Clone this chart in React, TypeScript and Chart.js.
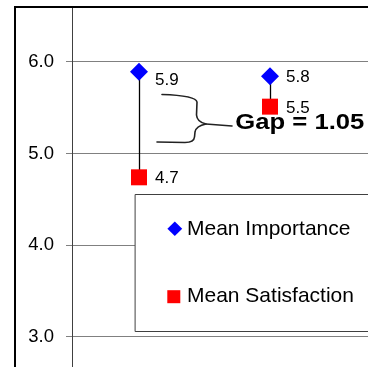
import React, { useEffect, useRef } from "react";
import { Chart, registerables } from "chart.js";

Chart.register(...registerables);

// ---- data ----
const categories = ["Attribute 1", "Attribute 2"];
const meanImportance = [5.89, 5.84];
const meanSatisfaction = [4.74, 5.51];
const yTickValues = [3, 4, 5, 6];
const seriesNames = ["Mean Importance", "Mean Satisfaction"];
const gapText = "Gap = 1.05";

const FONT = "'Liberation Sans', Arial, Helvetica, sans-serif";

const decorPlugin = {
  id: "decor",
  beforeDatasetsDraw(chart: any) {
    const { ctx } = chart;
    const xs = chart.scales.x;
    const ys = chart.scales.y;
    ctx.save();
    ctx.strokeStyle = "#000";
    ctx.lineWidth = 1.3;
    categories.forEach((_, i) => {
      const px = Math.round(xs.getPixelForValue(i)) + 0.5;
      ctx.beginPath();
      ctx.moveTo(px, ys.getPixelForValue(meanImportance[i]));
      ctx.lineTo(px, ys.getPixelForValue(meanSatisfaction[i]));
      ctx.stroke();
    });
    ctx.restore();
  },
  afterDatasetsDraw(chart: any) {
    const { ctx } = chart;
    ctx.save();
    // value labels
    ctx.fillStyle = "#000";
    ctx.font = `17px ${FONT}`;
    ctx.textAlign = "left";
    ctx.textBaseline = "alphabetic";
    [meanImportance, meanSatisfaction].forEach((series, d) => {
      const meta = chart.getDatasetMeta(d);
      series.forEach((v, i) => {
        const el = meta.data[i];
        const nudge = d === 0 && i === 0 ? 7 : 0;
        ctx.fillText(v.toFixed(1), el.x + 16, el.y + 6 + nudge);
      });
    });

    // curly bracket
    ctx.strokeStyle = "#222";
    ctx.lineWidth = 1.6;
    ctx.lineJoin = "round";
    ctx.lineCap = "round";
    ctx.beginPath();
    ctx.moveTo(162, 94.5);
    ctx.quadraticCurveTo(196, 95.5, 197, 102);
    ctx.lineTo(196.5, 115);
    ctx.quadraticCurveTo(197, 122, 206, 124);
    ctx.quadraticCurveTo(196, 126, 195, 132);
    ctx.lineTo(194.5, 137);
    ctx.quadraticCurveTo(194, 142.5, 185, 142.5);
    ctx.lineTo(157, 142);
    ctx.stroke();
    ctx.beginPath();
    ctx.moveTo(206, 124);
    ctx.lineTo(232, 126);
    ctx.stroke();

    // gap text (stretched horizontally)
    ctx.font = `bold 22px ${FONT}`;
    const w = ctx.measureText(gapText).width;
    ctx.save();
    ctx.translate(235.3, 129);
    ctx.scale(129 / w, 1);
    ctx.fillStyle = "#000";
    ctx.fillText(gapText, 0, 0);
    ctx.restore();

    // legend box
    ctx.fillStyle = "#fff";
    ctx.fillRect(135, 194, 240, 138);
    ctx.strokeStyle = "#404040";
    ctx.lineWidth = 1;
    ctx.strokeRect(135.5, 194.5, 240, 137);
    // legend markers
    ctx.fillStyle = "#0000FF";
    ctx.beginPath();
    ctx.moveTo(174.8, 221.5);
    ctx.lineTo(182.2, 228.7);
    ctx.lineTo(174.8, 236);
    ctx.lineTo(167.4, 228.7);
    ctx.closePath();
    ctx.fill();
    ctx.fillStyle = "#FF0000";
    ctx.fillRect(167.3, 290.2, 13, 13);
    ctx.fillStyle = "#000";
    ctx.font = `21px ${FONT}`;
    ctx.fillText(seriesNames[0], 187, 234.7);
    ctx.fillText(seriesNames[1], 187, 302.3);

    // outer chart border
    ctx.fillStyle = "#000";
    ctx.fillRect(14, 6, 360, 2);
    ctx.fillRect(14, 6, 2, 370);
    ctx.restore();
  },
};

export default function App() {
  const ref = useRef<HTMLCanvasElement | null>(null);
  useEffect(() => {
    if (!ref.current) return;
    const chart = new Chart(ref.current, {
      type: "scatter",
      data: {
        labels: categories,
        datasets: [
          {
            label: seriesNames[0],
            data: meanImportance.map((v, i) => ({ x: i, y: v })),
            pointStyle: "rectRot",
            pointRadius: 9,
            backgroundColor: "#0000FF",
            borderWidth: 0,
          },
          {
            label: seriesNames[1],
            data: meanSatisfaction.map((v, i) => ({ x: i, y: v })),
            pointStyle: "rect",
            pointRadius: 11.3,
            backgroundColor: "#FF0000",
            borderWidth: 0,
          },
        ],
      },
      options: {
        animation: false,
        responsive: false,
        devicePixelRatio: 1,
        events: [],
        layout: { autoPadding: false, padding: { top: 8, left: 0, right: 0, bottom: 0 } },
        plugins: { legend: { display: false }, tooltip: { enabled: false } },
        scales: {
          x: { type: "linear", display: false, min: -0.5115, max: 1.748 },
          y: {
            type: "linear",
            min: 2.673,
            max: 6.585,
            afterFit: (s: any) => {
              s.width = 72;
              s.paddingTop = 0;
              s.paddingBottom = 0;
            },
            afterBuildTicks: (s: any) => {
              s.ticks = yTickValues.map((v) => ({ value: v }));
            },
            ticks: {
              padding: 12,
              color: "#000",
              font: { family: FONT, size: 18.5 },
              callback: (v: any) => Number(v).toFixed(1),
            },
            grid: { color: "#808080", lineWidth: 1, tickLength: 6, tickColor: "#808080" },
            border: { color: "#404040", width: 1 },
          },
        },
      },
      plugins: [decorPlugin],
    });
    return () => chart.destroy();
  }, []);
  return (
    <div style={{ position: "fixed", left: 0, top: 0, width: 368, height: 367, background: "#fff" }}>
      <canvas ref={ref} width={368} height={367} style={{ display: "block" }} />
    </div>
  );
}
